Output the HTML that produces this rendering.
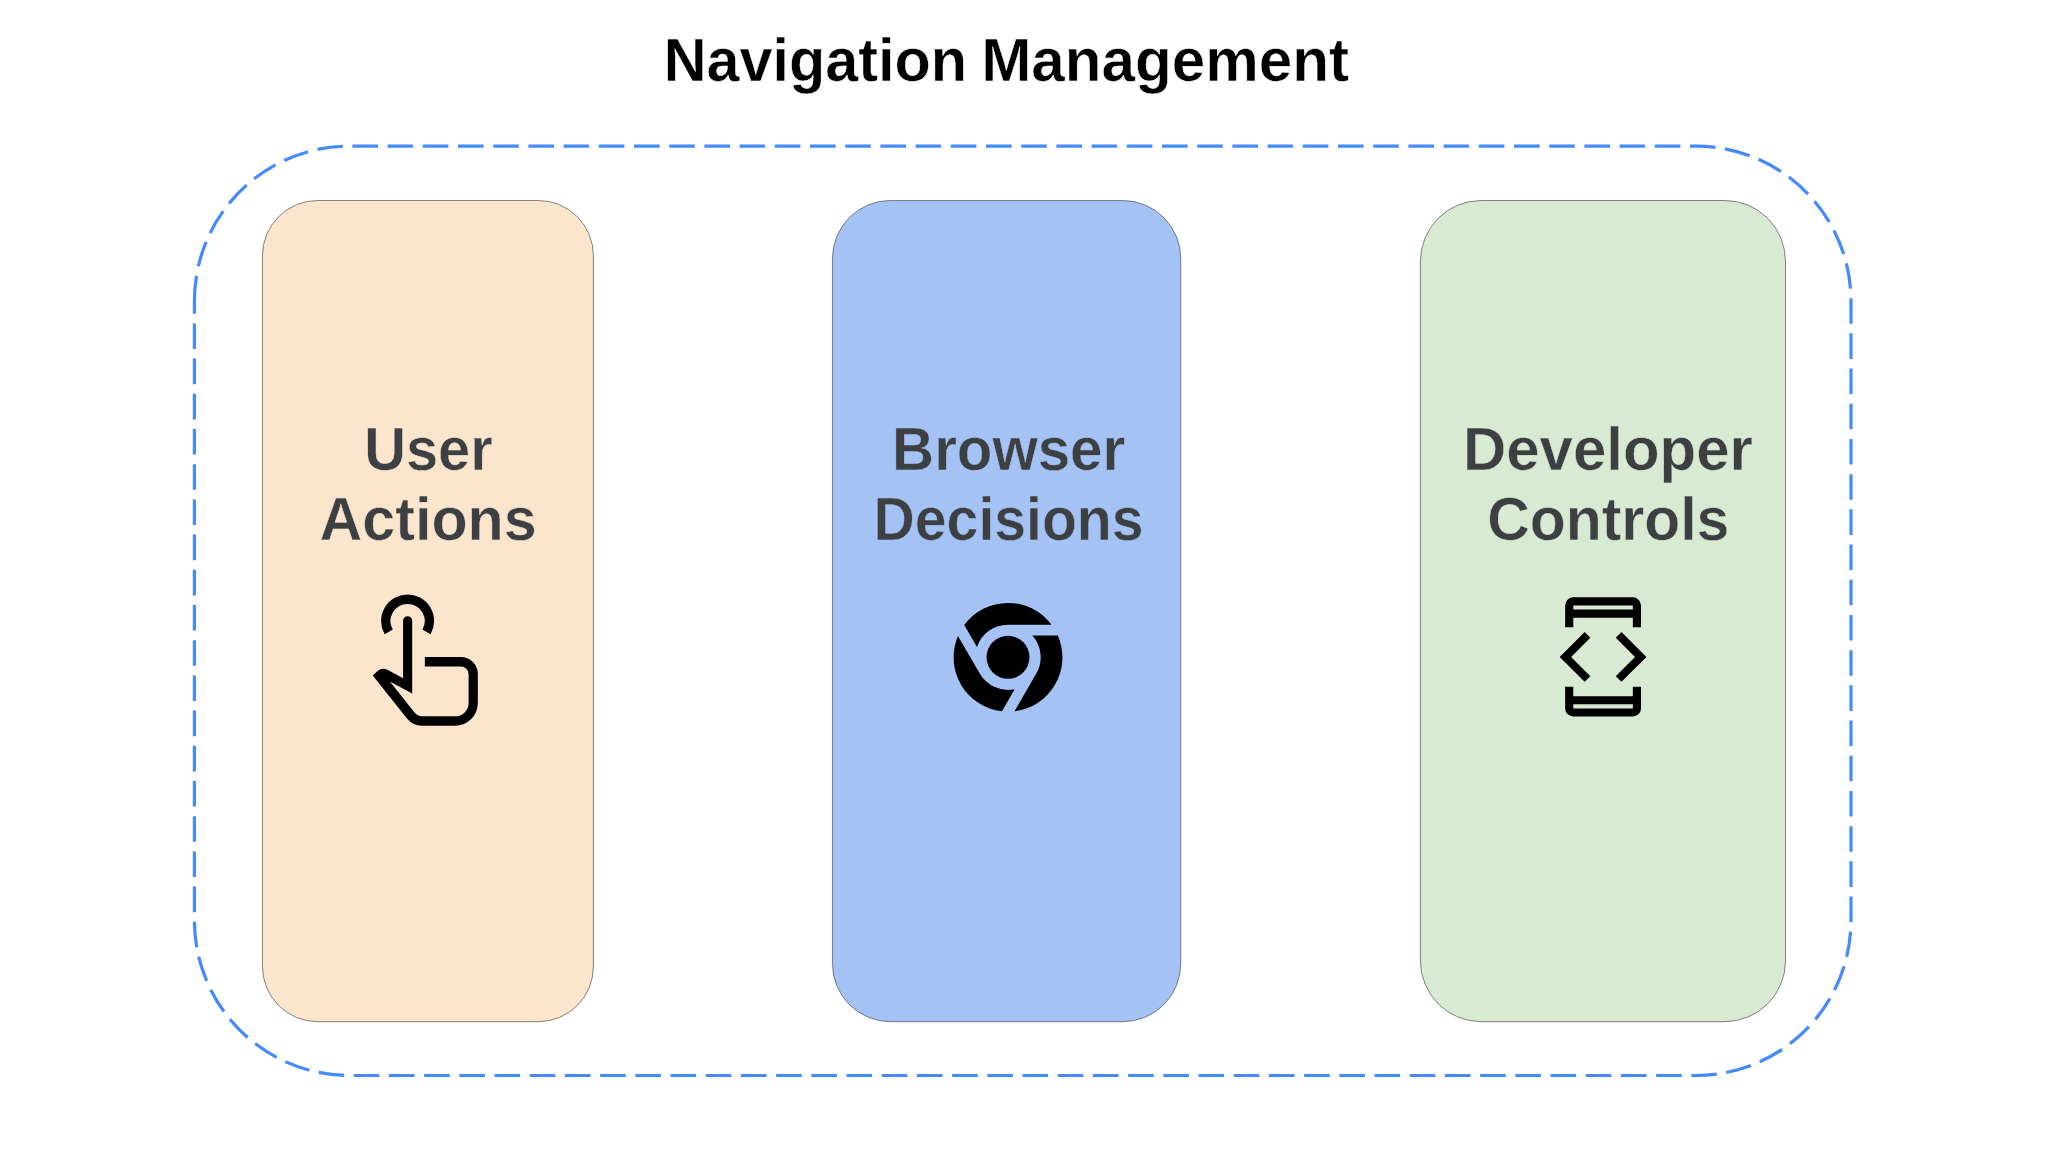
<!DOCTYPE html>
<html lang="en">
<head>
<meta charset="utf-8">
<title>Navigation Management</title>
<style>
html,body{margin:0;padding:0;background:#fff;}
body{width:2048px;height:1152px;position:relative;overflow:hidden;font-family:"Liberation Sans",sans-serif;}
svg{position:absolute;left:0;top:0;}
.t{position:absolute;left:0;margin:0;white-space:nowrap;font-family:"Liberation Sans",sans-serif;font-weight:700;font-size:61px;line-height:61px;transform-origin:0 0;}
.w{display:inline-block;transform-origin:0 0;}
.t{-webkit-text-stroke:0.5px #fff;}
.lbl{color:#3c4043;}
</style>
</head>
<body>
<svg width="2048" height="1152" viewBox="0 0 2048 1152">
<path d="M194.40,301.10 A155.00,155.00 0 0 1 349.40,146.10 L1696.00,146.10 A155.00,155.00 0 0 1 1851.00,301.10 L1851.00,920.50 A155.00,155.00 0 0 1 1696.00,1075.50 L349.40,1075.50 A155.00,155.00 0 0 1 194.40,920.50 Z" fill="none" stroke="#448aff" stroke-width="3.2" stroke-dasharray="25.6 9.6"/>
<path d="M262.45,255.63 A55.16,55.16 0 0 1 317.61,200.47 L538.24,200.47 A55.16,55.16 0 0 1 593.40,255.63 L593.40,966.54 A55.16,55.16 0 0 1 538.24,1021.70 L317.61,1021.70 A55.16,55.16 0 0 1 262.45,966.54 Z" fill="#fce5cd" stroke="#595959" stroke-width="0.75"/>
<path d="M832.45,258.52 A58.05,58.05 0 0 1 890.50,200.47 L1122.71,200.47 A58.05,58.05 0 0 1 1180.76,258.52 L1180.76,963.65 A58.05,58.05 0 0 1 1122.71,1021.70 L890.50,1021.70 A58.05,58.05 0 0 1 832.45,963.65 Z" fill="#a4c2f4" stroke="#595959" stroke-width="0.75"/>
<path d="M1420.40,261.32 A60.85,60.85 0 0 1 1481.25,200.47 L1724.65,200.47 A60.85,60.85 0 0 1 1785.50,261.32 L1785.50,960.85 A60.85,60.85 0 0 1 1724.65,1021.70 L1481.25,1021.70 A60.85,60.85 0 0 1 1420.40,960.85 Z" fill="#d9ead3" stroke="#595959" stroke-width="0.75"/>
<path fill="none" stroke="#000" stroke-width="9.4" d="M388.72,631.9 A21.8,21.8 0 1 1 426.48,631.9"/><path fill="#000" d="M403.06,620.85 A4.57,4.57 0 0 1 412.2,620.85 L412.2,693.6 L389.86,681.6 L414.57,712.62 A9.8,9.8 0 0 0 422.2,716.3 L455.2,716.3 A13.4,13.4 0 0 0 468.6,702.9 L468.6,674.3 A7.8,7.8 0 0 0 460.8,666.5 L424.86,666.5 L424.86,656.94 L460.85,656.94 A17,17 0 0 1 477.85,673.94 L477.85,703.1 A22.6,22.6 0 0 1 455.25,725.7 L421.96,725.7 A19.2,19.2 0 0 1 406.96,718.47 L372.78,675.56 L377.85,670.83 Q382.04,666.93 387.9,670.1 L403.06,678.33 Z"/>
<g transform="translate(1008.0,657.3) scale(5.44)" fill="#000"><path transform="rotate(0)" d="M8,-6 L0,-6 A6,6 0 0 0 -5.700,-1.873 L-8.047,-5.937 A10,10 0 0 1 8,-6 Z"/><path transform="rotate(120)" d="M8,-6 L0,-6 A6,6 0 0 0 -5.700,-1.873 L-8.047,-5.937 A10,10 0 0 1 8,-6 Z"/><path transform="rotate(240)" d="M8,-6 L0,-6 A6,6 0 0 0 -5.700,-1.873 L-8.047,-5.937 A10,10 0 0 1 8,-6 Z"/><circle r="3.95"/></g>
<g transform="translate(1538.06,721.9336000000001) scale(0.13541)" fill="#000"><path fill-rule="evenodd" d="M200-700v-160q0-24 18-42t42-18h440q24 0 42 18t18 42v160h-60v-70H260v70h-60Zm60-130h440v-30H260v30ZM200-260v160q0 24 18 42t42 18h440q24 0 42-18t18-42v-160h-60v70H260v-70h-60Zm60 130h440v30H260v-30ZM344-296 160-480l184-184 42 42-142 142 142 142-42 42ZM616-296l-42-42 142-142-142-142 42-42 184 184-184 184Z"/></g>
</svg>
<h1 class="t" id="title" style="top:30px;color:#000;transform:translate(663.71px,0)"><span class="w" style="transform:scaleX(0.9730)">Navigation</span> <span class="w" style="transform:translateX(-11.53px) scaleX(0.9867)">Management</span></h1>
<div class="t lbl" id="t2" style="top:419px;-webkit-text-stroke-color:#fce5cd;transform:translate(364.22px,0) scaleX(0.9470)">User</div>
<div class="t lbl" id="t3" style="top:489px;-webkit-text-stroke-color:#fce5cd;transform:translate(319.56px,0) scaleX(0.9703)">Actions</div>
<div class="t lbl" id="t4" style="top:419px;-webkit-text-stroke-color:#a4c2f4;transform:translate(892.08px,0) scaleX(0.9548)">Browser</div>
<div class="t lbl" id="t5" style="top:489px;-webkit-text-stroke-color:#a4c2f4;transform:translate(873.55px,0) scaleX(0.9369)">Decisions</div>
<div class="t lbl" id="t6" style="top:419px;-webkit-text-stroke-color:#d9ead3;transform:translate(1462.97px,0) scaleX(0.9828)">Developer</div>
<div class="t lbl" id="t7" style="top:489px;-webkit-text-stroke-color:#d9ead3;transform:translate(1487.17px,0) scaleX(0.9654)">Controls</div>
</body>
</html>
